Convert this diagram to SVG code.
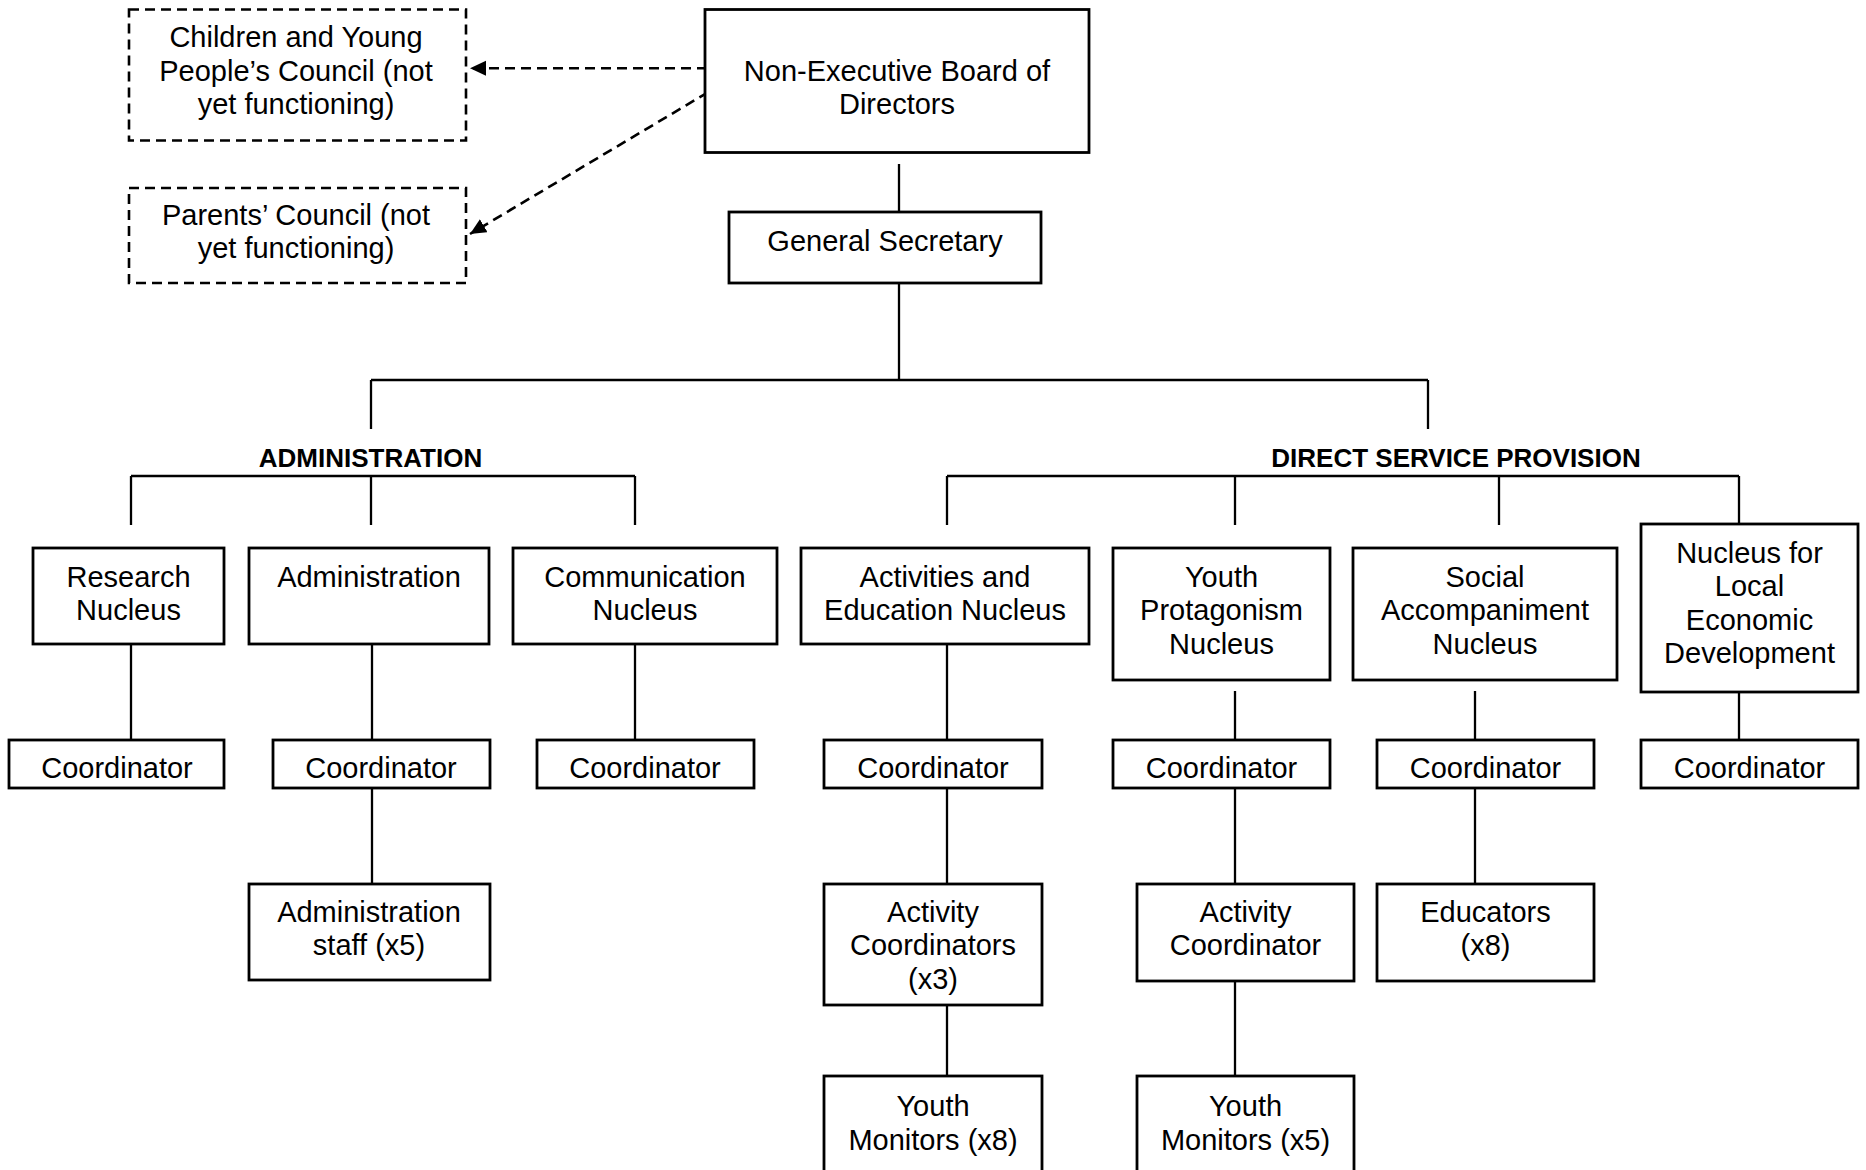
<svg xmlns="http://www.w3.org/2000/svg" width="1866" height="1170" viewBox="0 0 1866 1170">
<style>
  .box { fill: #ffffff; stroke: #000000; stroke-width: 2.8; }
  .dbox { fill: #ffffff; stroke: #000000; stroke-width: 2.6; stroke-dasharray: 10 6; }
  .ln { stroke: #000000; stroke-width: 2.3; fill: none; stroke-linecap: butt; }
  .dln { stroke: #000000; stroke-width: 2.6; fill: none; stroke-dasharray: 10 6; }
  text { font-family: "Liberation Sans", Arial, Helvetica, sans-serif; font-size: 29px; fill: #000000; text-anchor: middle; }
  text.hd { font-weight: bold; font-size: 26px; }
</style>
<defs>
  <marker id="ah" markerUnits="userSpaceOnUse" markerWidth="18" markerHeight="16" refX="16" refY="7.5" orient="auto">
    <path d="M0,0 L16,7.5 L0,15 Z" fill="#000000"/>
  </marker>
</defs>
<rect width="1866" height="1170" fill="#ffffff"/>

<g id="connectors">
  <line class="dln" x1="707" y1="68.3" x2="470" y2="68.3" marker-end="url(#ah)"/>
  <line class="dln" x1="708" y1="92.3" x2="470" y2="234" marker-end="url(#ah)"/>
  <line class="ln" x1="899" y1="164" x2="899" y2="212"/>
  <line class="ln" x1="899" y1="283" x2="899" y2="380"/>
  <line class="ln" x1="371" y1="380" x2="1428" y2="380"/>
  <line class="ln" x1="371" y1="380" x2="371" y2="429"/>
  <line class="ln" x1="1428" y1="380" x2="1428" y2="429"/>
  <line class="ln" x1="131" y1="476" x2="635" y2="476"/>
  <line class="ln" x1="131" y1="476" x2="131" y2="525"/>
  <line class="ln" x1="371" y1="476" x2="371" y2="525"/>
  <line class="ln" x1="635" y1="476" x2="635" y2="525"/>
  <line class="ln" x1="947" y1="476" x2="1739" y2="476"/>
  <line class="ln" x1="947" y1="476" x2="947" y2="525"/>
  <line class="ln" x1="1235" y1="476" x2="1235" y2="525"/>
  <line class="ln" x1="1499" y1="476" x2="1499" y2="525"/>
  <line class="ln" x1="1739" y1="476" x2="1739" y2="524"/>
  <line class="ln" x1="131" y1="644" x2="131" y2="740"/>
  <line class="ln" x1="372" y1="644" x2="372" y2="740"/>
  <line class="ln" x1="372" y1="788" x2="372" y2="884"/>
  <line class="ln" x1="635" y1="644" x2="635" y2="740"/>
  <line class="ln" x1="947" y1="644" x2="947" y2="740"/>
  <line class="ln" x1="947" y1="788" x2="947" y2="884"/>
  <line class="ln" x1="947" y1="1005" x2="947" y2="1076"/>
  <line class="ln" x1="1235" y1="691" x2="1235" y2="740"/>
  <line class="ln" x1="1235" y1="788" x2="1235" y2="884"/>
  <line class="ln" x1="1235" y1="981" x2="1235" y2="1076"/>
  <line class="ln" x1="1475" y1="691" x2="1475" y2="740"/>
  <line class="ln" x1="1475" y1="788" x2="1475" y2="884"/>
  <line class="ln" x1="1739" y1="692" x2="1739" y2="740"/>
</g>

<g id="children-council">
  <rect class="dbox" x="129" y="9.5" width="337" height="131"/>
  <text x="296" y="46.5">Children and Young</text>
  <text x="296" y="80.5">People’s Council (not</text>
  <text x="296" y="113.5">yet functioning)</text>
</g>
<g id="parents-council">
  <rect class="dbox" x="129" y="188" width="337" height="95"/>
  <text x="296" y="225">Parents’ Council (not</text>
  <text x="296" y="258">yet functioning)</text>
</g>
<g id="board">
  <rect class="box" x="705" y="9.5" width="384" height="143"/>
  <text x="897" y="80.5">Non-Executive Board of</text>
  <text x="897" y="114">Directors</text>
</g>
<g id="general-secretary">
  <rect class="box" x="729" y="212" width="312" height="71"/>
  <text x="885" y="250.5">General Secretary</text>
</g>

<g id="label-administration">
  <text class="hd" x="370.5" y="466.5">ADMINISTRATION</text>
</g>
<g id="label-dsp">
  <text class="hd" x="1456" y="466.5">DIRECT SERVICE PROVISION</text>
</g>

<g id="research-nucleus">
  <rect class="box" x="33" y="548" width="191" height="96"/>
  <text x="128.5" y="586.5">Research</text>
  <text x="128.5" y="619.5">Nucleus</text>
</g>
<g id="administration">
  <rect class="box" x="249" y="548" width="240" height="96"/>
  <text x="369" y="586.5">Administration</text>
</g>
<g id="communication-nucleus">
  <rect class="box" x="513" y="548" width="264" height="96"/>
  <text x="645" y="586.5">Communication</text>
  <text x="645" y="619.5">Nucleus</text>
</g>
<g id="activities-nucleus">
  <rect class="box" x="801" y="548" width="288" height="96"/>
  <text x="945" y="586.5">Activities and</text>
  <text x="945" y="619.5">Education Nucleus</text>
</g>
<g id="youth-protagonism-nucleus">
  <rect class="box" x="1113" y="548" width="217" height="132"/>
  <text x="1221.5" y="586.5">Youth</text>
  <text x="1221.5" y="620">Protagonism</text>
  <text x="1221.5" y="653.5">Nucleus</text>
</g>
<g id="social-accompaniment-nucleus">
  <rect class="box" x="1353" y="548" width="264" height="132"/>
  <text x="1485" y="586.5">Social</text>
  <text x="1485" y="620">Accompaniment</text>
  <text x="1485" y="653.5">Nucleus</text>
</g>
<g id="local-economic-nucleus">
  <rect class="box" x="1641" y="524" width="217" height="168"/>
  <text x="1749.5" y="562.5">Nucleus for</text>
  <text x="1749.5" y="596">Local</text>
  <text x="1749.5" y="629.5">Economic</text>
  <text x="1749.5" y="663">Development</text>
</g>

<g id="coord-research">
  <rect class="box" x="9" y="740" width="215" height="48"/>
  <text x="117" y="778">Coordinator</text>
</g>
<g id="coord-administration">
  <rect class="box" x="273" y="740" width="217" height="48"/>
  <text x="381" y="778">Coordinator</text>
</g>
<g id="coord-communication">
  <rect class="box" x="537" y="740" width="217" height="48"/>
  <text x="645" y="778">Coordinator</text>
</g>
<g id="coord-activities">
  <rect class="box" x="824" y="740" width="218" height="48"/>
  <text x="933" y="778">Coordinator</text>
</g>
<g id="coord-youth">
  <rect class="box" x="1113" y="740" width="217" height="48"/>
  <text x="1221.5" y="778">Coordinator</text>
</g>
<g id="coord-social">
  <rect class="box" x="1377" y="740" width="217" height="48"/>
  <text x="1485.5" y="778">Coordinator</text>
</g>
<g id="coord-local-economic">
  <rect class="box" x="1641" y="740" width="217" height="48"/>
  <text x="1749.5" y="778">Coordinator</text>
</g>

<g id="administration-staff">
  <rect class="box" x="249" y="884" width="241" height="96"/>
  <text x="369" y="921.5">Administration</text>
  <text x="369" y="955">staff (x5)</text>
</g>
<g id="activity-coordinators">
  <rect class="box" x="824" y="884" width="218" height="121"/>
  <text x="933" y="921.5">Activity</text>
  <text x="933" y="955">Coordinators</text>
  <text x="933" y="988.5">(x3)</text>
</g>
<g id="activity-coordinator">
  <rect class="box" x="1137" y="884" width="217" height="97"/>
  <text x="1245.5" y="921.5">Activity</text>
  <text x="1245.5" y="955">Coordinator</text>
</g>
<g id="educators">
  <rect class="box" x="1377" y="884" width="217" height="97"/>
  <text x="1485.5" y="921.5">Educators</text>
  <text x="1485.5" y="955">(x8)</text>
</g>
<g id="youth-monitors-8">
  <rect class="box" x="824" y="1076" width="218" height="110"/>
  <text x="933" y="1116">Youth</text>
  <text x="933" y="1150">Monitors (x8)</text>
</g>
<g id="youth-monitors-5">
  <rect class="box" x="1137" y="1076" width="217" height="110"/>
  <text x="1245.5" y="1116">Youth</text>
  <text x="1245.5" y="1150">Monitors (x5)</text>
</g>
</svg>
